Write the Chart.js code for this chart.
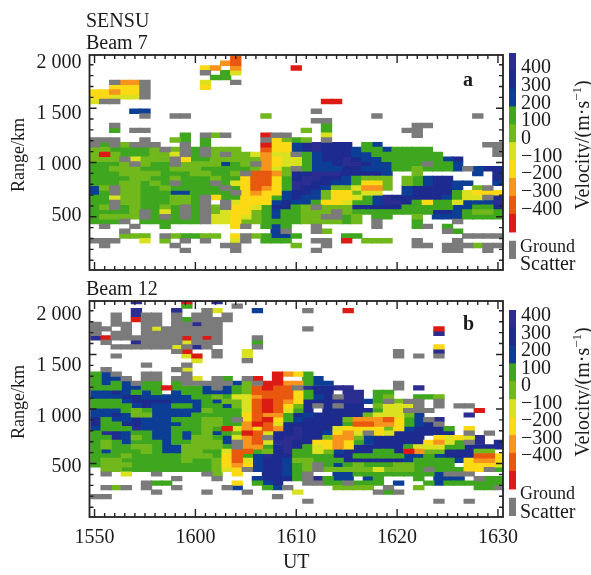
<!DOCTYPE html>
<html>
<head>
<meta charset="utf-8">
<script src="https://cdn.jsdelivr.net/npm/chart.js@4"></script>
<style>
  body { margin: 0; background: #fff; }
  #page { position: relative; width: 591px; height: 575px; overflow: hidden; }
  canvas { position: absolute; left: 0; }
  .t { position: absolute; font: 20px/22px "Liberation Serif", serif; color: #1a1a1a; white-space: nowrap; }
  .rot { transform: translate(-50%, -50%) rotate(-90deg); }
  .rot sup { font-size: 13px; line-height: 0; }
</style>
</head>
<body>
<div id="page">
  <canvas id="chartA" width="591" height="290" style="top:0"></canvas>
  <canvas id="chartB" width="591" height="295" style="top:280px"></canvas>
  <canvas id="barA" width="86" height="240" style="left:505px;top:36px"></canvas>
  <canvas id="barB" width="86" height="240" style="left:505px;top:293px"></canvas>

  <div class="t" style="left:86px;top:9px">SENSU</div>
  <div class="t" style="left:86px;top:31px">Beam 7</div>
  <div class="t" style="left:86px;top:277px">Beam 12</div>
  <div class="t" style="left:463px;top:68px;font-weight:bold">a</div>
  <div class="t" style="left:463px;top:312px;font-weight:bold">b</div>
  <div class="t rot" style="left:18px;top:155px;font-size:18px">Range/km</div>
  <div class="t rot" style="left:18px;top:402px;font-size:18px">Range/km</div>
  <div class="t rot" style="left:582px;top:145px">Velocity/(m·s<sup>−1</sup>)</div>
  <div class="t rot" style="left:582px;top:392px">Velocity/(m·s<sup>−1</sup>)</div>
  <div class="t" style="left:520px;top:235px;font-size:18px">Ground</div>
  <div class="t" style="left:520px;top:252px">Scatter</div>
  <div class="t" style="left:520px;top:482px;font-size:18px">Ground</div>
  <div class="t" style="left:520px;top:500px">Scatter</div>
</div>

<script>
// level colours, red (-400) up to purple (400), '#' is ground scatter
const levelColors = ['#dc1c14', '#e8590f', '#f7941d', '#fbd914', '#d9e120', '#70b81b', '#3fa61f', '#0c3e96', '#1c2b8d', '#2c2d90'];
const groundColor = '#7b7b7b';

const velocityTicks = [400, 300, 200, 100, 0, -100, -200, -300, -400];
const timeMinutes = [0, 10, 20, 30, 40];
const timeLabels = ['1550', '1600', '1610', '1620', '1630'];
const rangeLabels = [500, 1000, 1500, 2000];
const rangeTicks = [80, 180, 280, 380, 480, 580, 680, 780, 880, 980, 1080, 1180, 1280, 1380, 1480, 1580, 1680, 1780, 1880];
const rangeMajor = [480, 980, 1480];

// one string per range gate from the top, one char per minute from 1550
const beam7Rows = [
  "..............1",
  ".............21",
  "...........32.2.....0",
  "...........#.64",
  "............66",
  "..#22#.....4..#",
  "..333#.....3",
  "33233#",
  "33444#",
  "4##....................00",
  "",
  "....77................#",
  ".....#..##.......5..........#.........#",
  "......................##",
  "..#....................6........##",
  "..6.##...............5.6.......##",
  ".........6.#5#...0##...4........#",
  "###..#..56.6.....#3565.#",
  "#6#5###..#.6.....033789888.67..........##",
  "5566665#5#6#555..13378988876676666......#",
  "505666554#6#5#554244#67888776666666.....#",
  "555#4555#3665555523446788987766666678....",
  "6665#566#5555765#2344677899877666#667....",
  "66555666555666665245#6777887776656667#788",
  "666555566655665#11258899988887..5.....7.8",
  "666655665666566311368998876555.56788....8",
  "66655656#666#64311369988776335.5678877..7",
  "75#5566566666#6312369887554225.788887.5#.",
  "76#55666776666#32337887533544..7888864333",
  "66455666556#366333678775334679888887644#8",
  "66#55666556#.#433378776334667998636647779",
  "65#656656#6#5#33468865#555888886666677668",
  "66665#646#6#543356766555#5666666668876556",
  "65555#6#6#6#44345676655##65.66..5.7776666",
  "666#.666666#443556666555565.#...6...#....",
  ".#..#..6......3#.676..#.....#...6#.6.....",
  "...#..............7#..#5...........#6....",
  "...555.#56655.3#56776....66..........####",
  "###..4.5.#.#..4#.666..##.0.555..#...#....",
  ".#......#....##.....5..#........##.###5##",
  ".........#....#.......#............##..#."
];

const beam12Rows = [
  "....9....0..9",
  ".........6....#",
  "....9...9..#4...7....#...0",
  "..#.9##.#.##.#",
  "..#.0##.#6####",
  "#.##.##.##9##",
  "##.#.#4######........#............0",
  "#.##.########.....................9",
  "90#######0#0#...#...",
  ".#..9####4###...6...",
  "..######4#9#....#.................3",
  "........#0..#..4..............#...9",
  "..#......40.#..4..............#.#.#",
  "..........4....#",
  ".....#...#",
  ".#......#4",
  "67#..##..#........0236",
  "677#.##.##4.#6.#0.0..67",
  "6767#66.6#####75#0022677......#",
  "666776606667#7651011#98899....#.9",
  "7787676.7667776511113688.99.66",
  "777887777766564421113678#99.65..665",
  "66678888777675541012388899976#5##.#",
  "6666787766766754101358#8#88.5444#.#.##",
  "7776567777756664101468.88888644###....0",
  "778755777766666312268788888544457....9",
  "86778777666556#310367888852221367#9",
  "8668877776655662014888888611223678#",
  "766697776665604231289888433335378886.3",
  "698766776765765014889887324#34888888.#.#.",
  "66875677675567421#899885225788888.34349..",
  "65676667665557#2149988332367888883246#9.8",
  "65665567755556#22689864323888886444668888",
  "6766656775566411658966457888668025588855.",
  "66656666655563167988666688666667767888113",
  "65566666656653147887556668888887666673223",
  "6555666666665323788765#6765666556666.3334",
  ".55666666666543#788765#5555545556#66633#6",
  ".#.4..#....#5.3..8876#..77666666667###...",
  "........#...#...78886#9677.76...6.777.#66",
  ".....#66......3.678..##66#666.7..67666666",
  ".#5#.#..#....#7..67#....5555.#..5.....66#",
  "......#....#...#....4.......#6#",
  "##................#.",
  ".....................#............#..#"
];

// turn the gate rows into one floating bar dataset per colour
function rowsToDatasets(rows, topKm, gateKm, xShift) {
  const keys = ['#', '0', '1', '2', '3', '4', '5', '6', '7', '8', '9'];
  const grid = rows.map(r => r.padEnd(41, '.'));
  return keys.map(key => {
    const data = [];
    for (let c = 0; c < 41; c++) {
      let r = 0;
      while (r < grid.length) {
        if (grid[r][c] !== key) { r++; continue; }
        let end = r;
        while (end + 1 < grid.length && grid[end + 1][c] === key) end++;
        data.push({ x: c + xShift, y: [topKm - gateKm * (end + 1), topKm - gateKm * r] });
        r = end + 1;
      }
    }
    return {
      data: data,
      backgroundColor: key === '#' ? groundColor : levelColors[Number(key)],
      borderWidth: 0,
      barThickness: 10.7,
      grouped: false,
      clip: 0
    };
  });
}

// ticks point into the plot on all four sides, chart.js can only draw them outward
const insideTicks = {
  id: 'insideTicks',
  afterDatasetsDraw(chart) {
    const { ctx, chartArea: a, scales } = chart;
    ctx.save();
    ctx.strokeStyle = '#222';
    ctx.lineWidth = 1.4;
    scales.x.ticks.forEach(t => {
      const px = scales.x.getPixelForValue(t.value);
      const len = t.value % 10 === 0 ? 8 : 4;
      ctx.beginPath();
      ctx.moveTo(px, a.top); ctx.lineTo(px, a.top + len);
      ctx.moveTo(px, a.bottom); ctx.lineTo(px, a.bottom - len);
      ctx.stroke();
    });
    scales.y.ticks.forEach(t => {
      const py = scales.y.getPixelForValue(t.value);
      const len = rangeMajor.includes(t.value) ? 7 : 4;
      ctx.beginPath();
      ctx.moveTo(a.left, py); ctx.lineTo(a.left + len, py);
      ctx.moveTo(a.right, py); ctx.lineTo(a.right - len, py);
      ctx.stroke();
    });
    ctx.lineWidth = 1.8;
    ctx.strokeRect(a.left, a.top, a.right - a.left, a.bottom - a.top);
    ctx.restore();
  }
};

const font = { family: '"Liberation Serif", serif', size: 20 };

function makePanel(id, rows, gateKm, topKm, xShift, labelMin, labelMax, padTop, showTime) {
  return new Chart(document.getElementById(id), {
    type: 'bar',
    data: { datasets: rowsToDatasets(rows, topKm, gateKm, xShift) },
    plugins: [insideTicks],
    options: {
      responsive: false,
      animation: false,
      layout: { padding: { left: 0, right: 88, top: padTop, bottom: 0 } },
      plugins: { legend: { display: false }, tooltip: { enabled: false } },
      scales: {
        x: {
          type: 'linear',
          min: 0,
          max: 40,
          grid: { display: false, drawTicks: false },
          border: { display: false },
          afterBuildTicks: s => { s.ticks = Array.from({ length: 41 }, (_, i) => ({ value: i })); },
          ticks: {
            display: showTime,
            autoSkip: false,
            maxRotation: 0,
            padding: 9,
            color: '#1a1a1a',
            font: font,
            callback: v => { const i = timeMinutes.indexOf(v); return i < 0 ? '' : timeLabels[i]; }
          },
          title: { display: showTime, text: 'UT', color: '#1a1a1a', font: font, padding: { top: 2, bottom: 0 } },
          afterFit: s => { s.height = showTime ? 58 : 4.5; }
        },
        y: {
          min: -10,
          max: 1970,
          position: 'left',
          grid: { display: false, drawTicks: false },
          border: { display: false },
          afterBuildTicks: s => { s.ticks = rangeTicks.map(v => ({ value: v })); },
          ticks: { display: false },
          afterFit: s => { s.width = 0; }
        },
        yRange: {
          min: labelMin,
          max: labelMax,
          position: 'left',
          grid: { display: false, drawTicks: false },
          border: { display: false },
          afterBuildTicks: s => { s.ticks = rangeLabels.map(v => ({ value: v })); },
          ticks: {
            padding: 8,
            color: '#1a1a1a',
            font: font,
            callback: v => v >= 1000 ? Math.floor(v / 1000) + ' ' + String(v % 1000).padStart(3, '0') : String(v)
          },
          afterFit: s => { s.width = 89.5; }
        }
      }
    }
  });
}

function makeColorBar(id, labelMin, labelMax, padTop) {
  const segments = levelColors.map((color, i) => ({
    data: [[i, i + 1]],
    backgroundColor: color,
    borderWidth: 0,
    grouped: false,
    barPercentage: 1,
    categoryPercentage: 1
  }));
  segments.push({
    data: [[-1.5, -0.5]],
    backgroundColor: groundColor,
    borderWidth: 0,
    grouped: false,
    barPercentage: 1,
    categoryPercentage: 1
  });
  return new Chart(document.getElementById(id), {
    type: 'bar',
    data: { labels: ['velocity'], datasets: segments },
    options: {
      responsive: false,
      animation: false,
      layout: { padding: { left: 4, right: 0, top: padTop, bottom: 0 } },
      plugins: { legend: { display: false }, tooltip: { enabled: false } },
      scales: {
        x: { display: false },
        y: { display: false, min: -1.5, max: 10 },
        yVel: {
          position: 'right',
          min: labelMin,
          max: labelMax,
          grid: { display: false, drawTicks: false },
          border: { display: false },
          afterBuildTicks: s => { s.ticks = velocityTicks.map(v => ({ value: v })); },
          ticks: {
            autoSkip: false,
            padding: 5,
            color: '#1a1a1a',
            font: font,
            callback: v => v < 0 ? '−' + Math.abs(v) : String(v)
          },
          afterFit: s => { s.width = 75; }
        }
      }
    }
  });
}

makePanel('chartA', beam7Rows, 44.2, 1961, 0, -34, 2078, 55, false);
makePanel('chartB', beam12Rows, 41.6, 1985.6, 0.15, 7, 2138, 21, true);
makeColorBar('barA', -679, 484, 13);
makeColorBar('barB', -742, 434, 13);
</script>
</body>
</html>
